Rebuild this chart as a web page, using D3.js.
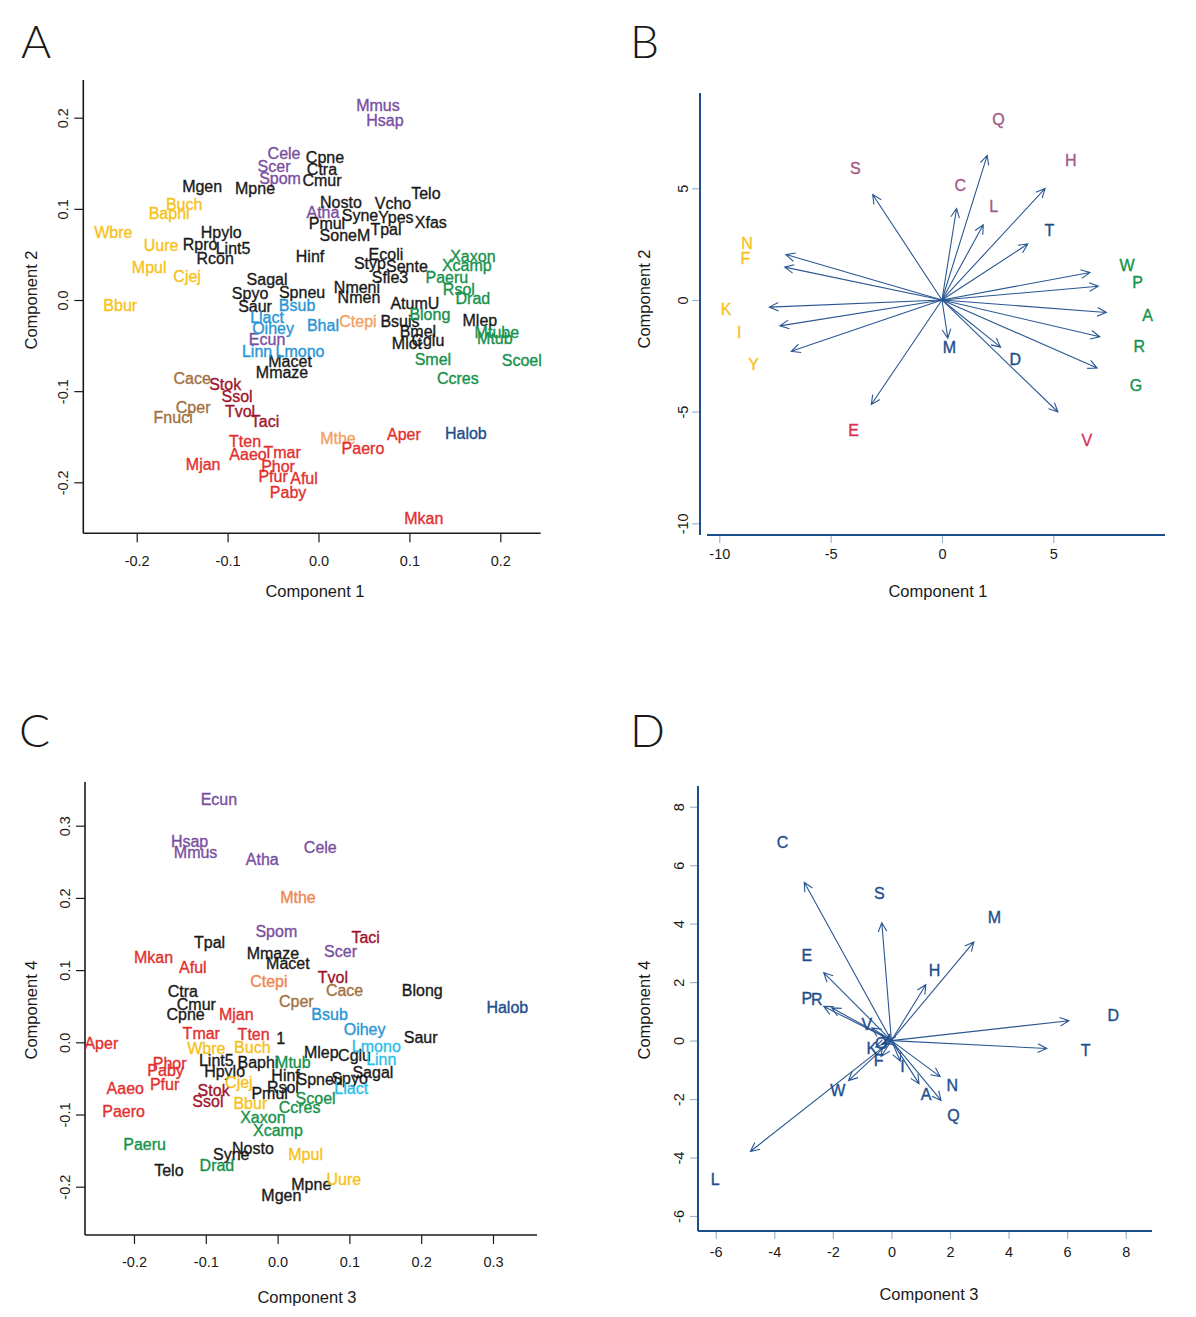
<!DOCTYPE html>
<html><head><meta charset="utf-8">
<script src="https://cdn.jsdelivr.net/npm/d3@7"></script>
<style>
body{margin:0;background:#fff;}
svg{display:block;}
</style></head>
<body>
<svg id="chart" width="1196" height="1317"></svg>
<script>
// ---------------- Panel A (Component 1 vs Component 2) ----------------
const aNames = ["Mmus","Hsap","Cele","Scer","Spom","Atha","Ecun",
 "Cpne","Ctra","Cmur","Mgen","Mpne","Telo","Nosto","Vcho","Syne","Ypes","Xfas","Pmul","Tpal","SoneM","Hpylo","Rpro","Lint5","Rcon","Hinf","Ecoli","Styp","Sente","Sfle3","Sagal","Spyo","Spneu","Nmeni","Nmen","Saur","AtumU","Bsuis","Bmel","Mlep","Cglu","Mlot","Macet","Mmaze",
 "Buch","Baphi","Wbre","Uure","Mpul","Cjej","Bbur",
 "Xaxon","Xcamp","Paeru","Rsol","Drad","Blong","Mtube","Mtub","Smel","Scoel","Ccres",
 "Bsub","Llact","Oihey","Bhal","Linn","Lmono",
 "Ctepi","Mthe",
 "Cace","Cper","Fnuci",
 "Stok","Ssol","Tvol","Taci",
 "Tten","Tmar","Aaeo","Mjan","Phor","Pfur","Aful","Paby","Paero","Aper","Mkan",
 "Halob"];
const aX = [0.0654,0.0731,-0.0379,-0.0489,-0.0423,0.0049,-0.0566,
 0.0071,0.0038,0.0038,-0.1280,-0.0698,0.1181,0.0247,0.0819,0.0456,0.0852,0.1236,0.0093,0.0742,0.0291,-0.1071,-0.1302,-0.0940,-0.1137,-0.0093,0.0742,0.0566,0.0973,0.0786,-0.0566,-0.0753,-0.0181,0.0423,0.0445,-0.0698,0.1060,0.0896,0.1093,0.1775,0.1203,0.0973,-0.0313,-0.0401,
 -0.1478,-0.1643,-0.2258,-0.1731,-0.1863,-0.1445,-0.2181,
 0.1698,0.1632,0.1412,0.1544,0.1698,0.1225,0.1962,0.1940,0.1258,0.2236,0.1533,
 -0.0236,-0.0566,-0.0500,0.0049,-0.0676,-0.0203,
 0.0434,0.0214,
 -0.1390,-0.1379,-0.1599,
 -0.1027,-0.0896,-0.0863,-0.0588,
 -0.0808,-0.0401,-0.0775,-0.1269,-0.0445,-0.0500,-0.0159,-0.0335,0.0489,0.0940,0.1159,
 0.1621];
const aY = [0.2139,0.1975,0.1613,0.1470,0.1338,0.0965,-0.0428,
 0.1569,0.1437,0.1317,0.1251,0.1229,0.1174,0.1075,0.1064,0.0933,0.0911,0.0856,0.0845,0.0779,0.0713,0.0746,0.0614,0.0570,0.0461,0.0483,0.0505,0.0406,0.0373,0.0252,0.0230,0.0077,0.0088,0.0143,0.0033,-0.0066,-0.0033,-0.0230,-0.0340,-0.0219,-0.0439,-0.0472,-0.0669,-0.0790,
 0.1053,0.0954,0.0746,0.0603,0.0362,0.0263,-0.0055,
 0.0483,0.0384,0.0252,0.0121,0.0022,-0.0154,-0.0351,-0.0417,-0.0647,-0.0658,-0.0856,
 -0.0055,-0.0187,-0.0307,-0.0274,-0.0560,-0.0560,
 -0.0230,-0.1514,
 -0.0856,-0.1174,-0.1284,
 -0.0922,-0.1053,-0.1218,-0.1327,
 -0.1547,-0.1668,-0.1690,-0.1799,-0.1821,-0.1931,-0.1953,-0.2106,-0.1624,-0.1470,-0.2392,
 -0.1459];
const aGroup = ["purple","purple","purple","purple","purple","purple","purple",
 "black","black","black","black","black","black","black","black","black","black","black","black","black","black","black","black","black","black","black","black","black","black","black","black","black","black","black","black","black","black","black","black","black","black","black","black","black",
 "yellow","yellow","yellow","yellow","yellow","yellow","yellow",
 "green","green","green","green","green","green","green","green","green","green","green",
 "blue","blue","blue","blue","blue","blue",
 "orangeA","orangeA",
 "brown","brown","brown",
 "darkred","darkred","darkred","darkred",
 "red","red","red","red","red","red","red","red","red","red","red",
 "navy"];
const aTicksX = [-0.2,-0.1,0.0,0.1,0.2];
const aTicksY = [-0.2,-0.1,0.0,0.1,0.2];
const aTickLabels = ["-0.2","-0.1","0.0","0.1","0.2"];

// ---------------- Panel C (Component 3 vs Component 4) ----------------
const cNames = ["Ecun","Hsap","Mmus","Atha","Cele","Spom","Scer",
 "Mthe","Ctepi",
 "Tpal","Mmaze","Macet","Ctra","Cmur","Cpne","Blong","1","Lint5","Baphi","Hpylo","Hinf","Rsol","Pmul","Nosto","Syne","Telo","Mpne","Mgen","Saur","Mlep","Cglu","Sagal","Spneu","Spyo",
 "Mkan","Aful","Mjan","Tmar","Tten","Aper","Phor","Paby","Pfur","Aaeo","Paero",
 "Taci","Tvol","Stok","Ssol",
 "Cace","Cper",
 "Wbre","Buch","Cjej","Bbur","Mpul","Uure",
 "Mtub","Ccres","Scoel","Xaxon","Xcamp","Paeru","Drad",
 "Bsub","Oihey",
 "Lmono","Linn","Llact",
 "Halob"];
const cX = [-0.0818,-0.1226,-0.1142,-0.0213,0.0595,-0.0018,0.0877,
 0.0283,-0.0121,
 -0.0947,-0.0065,0.0143,-0.1319,-0.1132,-0.1281,0.2015,0.0042,-0.0854,-0.0274,-0.0738,0.0111,0.0074,-0.0111,-0.0344,-0.0645,-0.1514,0.0469,0.0052,0.1992,0.0609,0.1072,0.1327,0.0585,0.1003,
 -0.1727,-0.1180,-0.0575,-0.1063,-0.0334,-0.2455,-0.1504,-0.1560,-0.1574,-0.2121,-0.2145,
 0.1226,0.0770,-0.0891,-0.0971,
 0.0933,0.0260,
 -0.0993,-0.0352,-0.0539,-0.0380,0.0390,0.0923,
 0.0213,0.0306,0.0529,-0.0205,0.0004,-0.1852,-0.0845,
 0.0724,0.1212,
 0.1375,0.1444,0.1026,
 0.3199];
const cY = [0.3368,0.2789,0.2636,0.2535,0.2706,0.1539,0.1261,
 0.2003,0.0844,
 0.1386,0.1225,0.1086,0.0706,0.0531,0.0392,0.0715,0.0053,-0.0257,-0.0281,-0.0406,-0.0456,-0.0628,-0.0711,-0.1469,-0.1553,-0.1771,-0.1969,-0.2118,0.0067,-0.0142,-0.0188,-0.0419,-0.0511,-0.0497,
 0.1169,0.1031,0.0392,0.0122,0.0104,-0.0011,-0.0294,-0.0396,-0.0581,-0.0636,-0.0961,
 0.1456,0.0892,-0.0664,-0.0822,
 0.0725,0.0563,
 -0.0081,-0.0072,-0.0558,-0.0850,-0.1553,-0.1900,
 -0.0281,-0.0906,-0.0775,-0.1035,-0.1219,-0.1414,-0.1701,
 0.0382,0.0183,
 -0.0063,-0.0233,-0.0642,
 0.0483];
const cGroup = ["purple","purple","purple","purple","purple","purple","purple",
 "orangeC","orangeC",
 "black","black","black","black","black","black","black","black","black","black","black","black","black","black","black","black","black","black","black","black","black","black","black","black","black",
 "red","red","red","red","red","red","red","red","red","red","red",
 "darkred","darkred","darkred","darkred",
 "brown","brown",
 "yellow","yellow","yellow","yellow","yellow","yellow",
 "green","green","green","green","green","green","green",
 "blue","blue",
 "cyan","cyan","cyan",
 "navy"];
const cTicksX = [-0.2,-0.1,0.0,0.1,0.2,0.3];
const cTickLabelsX = ["-0.2","-0.1","0.0","0.1","0.2","0.3"];
const cTicksY = [-0.2,-0.1,0.0,0.1,0.2,0.3];
const cTickLabelsY = ["-0.2","-0.1","0.0","0.1","0.2","0.3"];

// ---------------- Panel B (loadings, Component 1 vs 2) ----------------
const bLetters = ["Q","S","H","C","L","T","N","F","W","P","K","A","I","M","R","D","Y","G","E","V"];
const bX = [2.54,-3.89,5.79,0.82,2.32,4.82,-8.76,-8.83,8.31,8.78,-9.69,9.23,-9.10,0.33,8.86,3.29,-8.46,8.71,-3.97,6.51];
const bY = [8.09,5.90,6.24,5.12,4.21,3.13,2.54,1.84,1.54,0.77,-0.40,-0.70,-1.45,-2.14,-2.06,-2.64,-2.87,-3.81,-5.85,-6.27];
const bGroup = ["mauve","mauve","mauve","mauve","mauve","navy","yellow","yellow","green","green","yellow","green","yellow","navy","green","navy","yellow","green","crimson","crimson"];
const bTicks = [-10,-5,0,5];
const bTickLabels = ["-10","-5","0","5"];

// ---------------- Panel D (loadings, Component 3 vs 4) ----------------
const dLetters = ["C","S","M","E","H","P","R","D","T","K","F","I","W","N","A","Q","L","V","G","Y"];
const dX = [-3.72,-0.41,3.52,-2.89,1.47,-2.89,-2.55,7.58,6.63,-0.67,-0.44,0.38,-1.83,2.08,1.18,2.12,-6.02,-0.84,-0.35,-0.20];
const dY = [6.77,5.04,4.22,2.91,2.39,1.46,1.40,0.85,-0.34,-0.28,-0.68,-0.88,-1.71,-1.54,-1.84,-2.56,-4.74,0.54,-0.10,0.02];
const dTicks = [-6,-4,-2,0,2,4,6,8];
const dTickLabels = ["-6","-4","-2","0","2","4","6","8"];

const arrowScale = 0.8;

const colors = {
  purple:"#7A4F9F", black:"#1a1a1a", yellow:"#F6C21A", green:"#16924B",
  blue:"#2996D5", cyan:"#2CBFEA", orangeA:"#F2A063", orangeC:"#EE8650",
  brown:"#A2713F", darkred:"#A0142B", red:"#E2302F", navy:"#1D4E8C",
  mauve:"#A35B88", crimson:"#DD2D55"
};

const svg = d3.select("#chart");
svg.append("rect").attr("width",1196).attr("height",1317).attr("fill","#fff");

const FONT = "'Liberation Sans', Arial, Helvetica, sans-serif";
const AXC = "#1D4E8C";

function yTickLabels(g, off){
  g.selectAll(".tick text")
    .attr("transform","rotate(-90)")
    .attr("x",0).attr("y",-off).attr("dy",0)
    .attr("text-anchor","middle");
}

function scatterPanel(opt){
  const g = svg.append("g");
  const x = d3.scaleLinear().domain(opt.xd).range(opt.xr);
  const y = d3.scaleLinear().domain(opt.yd).range(opt.yr);
  const xa = g.append("g").attr("transform",`translate(0,${opt.bottom})`)
    .call(d3.axisBottom(x).tickValues(opt.xt).tickFormat((d,i)=>opt.xtl[i]).tickSize(opt.tick).tickPadding(opt.xpad));
  const ya = g.append("g").attr("transform",`translate(${opt.left},0)`)
    .call(d3.axisLeft(y).tickValues(opt.yt).tickFormat((d,i)=>opt.ytl[i]).tickSize(opt.tick));
  [xa,ya].forEach(a=>{
    a.select(".domain").remove();
    a.selectAll("line").attr("stroke",opt.tickColor).attr("stroke-width",opt.tickW);
    a.selectAll("text").attr("font-family",FONT).attr("font-size",14.5).attr("fill","#1a1a1a");
  });
  yTickLabels(ya, opt.yoff);
  g.append("line").attr("x1",opt.left).attr("x2",opt.left).attr("y1",opt.top).attr("y2",opt.bottom)
    .attr("stroke",opt.axisColor).attr("stroke-width",opt.axisW);
  g.append("line").attr("x1",opt.xstart).attr("x2",opt.right).attr("y1",opt.bottom).attr("y2",opt.bottom)
    .attr("stroke",opt.axisColor).attr("stroke-width",opt.axisW);
  g.append("text").attr("x",opt.xtitle[0]).attr("y",opt.xtitle[1]).attr("text-anchor","middle")
    .attr("font-family",FONT).attr("font-size",16.5).attr("fill","#1a1a1a").text(opt.xlab);
  g.append("text").attr("transform",`translate(${opt.ytitle[0]},${opt.ytitle[1]}) rotate(-90)`).attr("text-anchor","middle")
    .attr("font-family",FONT).attr("font-size",16.5).attr("fill","#1a1a1a").text(opt.ylab);
  return {g,x,y};
}

function panelLetter(t,x,y){
  svg.append("text").attr("x",x).attr("y",y).attr("font-family","Lato, 'Open Sans', sans-serif")
    .attr("font-weight",300).attr("font-size",46).attr("fill","#1a1a1a").text(t);
}

function drawArrows(p, xs, ys, color){
  const x0 = p.x(0), y0 = p.y(0);
  const L = 10, a = Math.PI/7;
  xs.forEach((vx,i)=>{
    const x1 = p.x(vx*arrowScale), y1 = p.y(ys[i]*arrowScale);
    const ang = Math.atan2(y1-y0, x1-x0);
    const path = `M${x0},${y0}L${x1},${y1}` +
      `M${x1-L*Math.cos(ang-a)},${y1-L*Math.sin(ang-a)}L${x1},${y1}L${x1-L*Math.cos(ang+a)},${y1-L*Math.sin(ang+a)}`;
    p.g.append("path").attr("d",path).attr("fill","none").attr("stroke",color).attr("stroke-width",1.1);
  });
}

function labels(p, names, xs, ys, colorFn){
  p.g.selectAll(".lab").data(names).join("text")
    .attr("x",(d,i)=>p.x(xs[i])).attr("y",(d,i)=>p.y(ys[i])).attr("dy","0.35em")
    .attr("text-anchor","middle").attr("font-family",FONT).attr("font-size",16)
    .attr("fill",colorFn).attr("stroke",colorFn).attr("stroke-width",0.35)
    .text(d=>d);
}

// ---- A ----
const pA = scatterPanel({
  xd:[-0.2,0.2], xr:[136.7,500.3], yd:[-0.2,0.2], yr:[482.3,117.7],
  xt:aTicksX, xtl:aTickLabels, yt:aTicksY, ytl:aTickLabels,
  left:83.3, bottom:533.3, top:80, xstart:83.3, right:540.7,
  tick:9, xpad:13, yoff:15, tickColor:"#1a1a1a", tickW:1.2, axisColor:"#1a1a1a", axisW:1.6,
  xlab:"Component 1", ylab:"Component 2", xtitle:[315,597], ytitle:[37,300]
});
labels(pA, aNames, aX, aY, (d,i)=>colors[aGroup[i]]);
panelLetter("A",21,58);

// ---- C ----
const pC = scatterPanel({
  xd:[-0.2,0.3], xr:[134,493], yd:[-0.2,0.3], yr:[1186.7,825.7],
  xt:cTicksX, xtl:cTickLabelsX, yt:cTicksY, ytl:cTickLabelsY,
  left:85, bottom:1235, top:782, xstart:85, right:537,
  tick:9, xpad:13, yoff:15, tickColor:"#1a1a1a", tickW:1.2, axisColor:"#1a1a1a", axisW:1.6,
  xlab:"Component 3", ylab:"Component 4", xtitle:[307,1303], ytitle:[37,1010]
});
labels(pC, cNames, cX, cY, (d,i)=>colors[cGroup[i]]);
panelLetter("C",19,747);

// ---- B ----
const pB = scatterPanel({
  xd:[-10,5], xr:[719.3,1053.3], yd:[-10,5], yr:[523.3,188.3],
  xt:bTicks, xtl:bTickLabels, yt:bTicks, ytl:bTickLabels,
  left:700, bottom:535, top:93, xstart:707, right:1165,
  tick:8, xpad:6, yoff:12, tickColor:"#9FB3CF", tickW:1.2, axisColor:AXC, axisW:2,
  xlab:"Component 1", ylab:"Component 2", xtitle:[938,597], ytitle:[650,299]
});
drawArrows(pB, bX, bY, "#2A5792");
labels(pB, bLetters, bX, bY, (d,i)=>colors[bGroup[i]]);
panelLetter("B",630,58);

// ---- D ----
const pD = scatterPanel({
  xd:[-6,8], xr:[715.7,1125.7], yd:[-6,8], yr:[1216,806.7],
  xt:dTicks, xtl:dTickLabels, yt:dTicks, ytl:dTickLabels,
  left:698, bottom:1231, top:786, xstart:698, right:1152,
  tick:8, xpad:8, yoff:14, tickColor:"#9FB3CF", tickW:1.2, axisColor:AXC, axisW:2,
  xlab:"Component 3", ylab:"Component 4", xtitle:[929,1300], ytitle:[650,1010]
});
drawArrows(pD, dX, dY, "#2A5792");
labels(pD, dLetters, dX, dY, ()=>colors.navy);
panelLetter("D",630,747);
</script>
</body></html>
